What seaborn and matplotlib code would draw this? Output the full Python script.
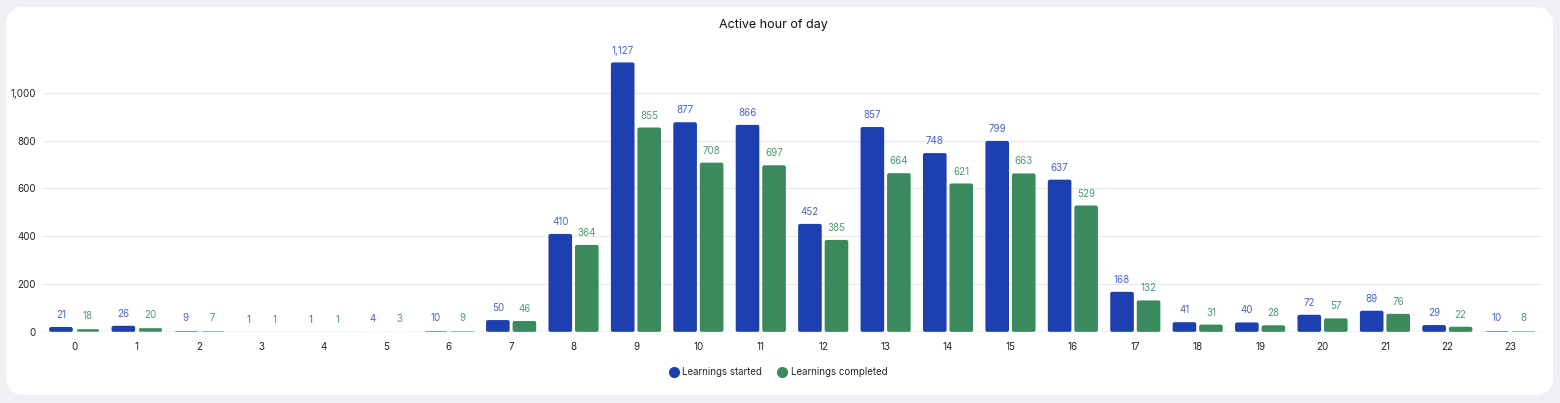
import pandas as pd
import matplotlib.pyplot as plt
import seaborn as sns
from matplotlib.patches import FancyBboxPatch
from matplotlib.lines import Line2D
from matplotlib.ticker import FuncFormatter

hours = [str(h) for h in range(24)]
started = [21, 26, 9, 1, 1, 4, 10, 50, 410, 1127, 877, 866, 452, 857, 748, 799, 637, 168, 41, 40, 72, 89, 29, 10]
completed = [18, 20, 7, 1, 1, 3, 9, 46, 364, 855, 708, 697, 385, 664, 621, 663, 529, 132, 31, 28, 57, 76, 22, 8]
series = ["Learnings started", "Learnings completed"]

blue = "#1d40b0"
green = "#3a8a5e"
label_colors = ["#4a63c8", "#4f9a6e"]

df = pd.DataFrame({
    "hour": hours * 2,
    "value": started + completed,
    "series": [series[0]] * 24 + [series[1]] * 24,
})

sns.set_theme(style="white")
plt.rcParams["font.family"] = ["Inter", "DejaVu Sans"]

W, H = 1560, 403
fig = plt.figure(figsize=(W / 100, H / 100), dpi=100, facecolor="#eef0f3")

# white card behind the chart
card = FancyBboxPatch((6 / W, 8 / H), 1547 / W, 388 / H,
                      boxstyle="round,pad=0,rounding_size=0.012",
                      transform=fig.transFigure, facecolor="white",
                      edgecolor="none", mutation_aspect=W / H, zorder=-10)
fig.patches.append(card)

ax = fig.add_axes([43 / W, (H - 332) / H, 1498 / W, 287 / H])
ax.set_facecolor("none")

sns.barplot(data=df, x="hour", y="value", hue="series", order=hours,
            palette=[blue, green], width=0.85, gap=0.11, ax=ax,
            legend=False, saturation=1)

ax.set_ylim(0, 1200)
ax.set_xlim(-0.5, 23.5)

# rounded bar tops (swap rectangles for rounded boxes)
px_x = 24 / 1498
px_y = 1200 / 287
for cont in ax.containers:
    for bar in cont:
        x, w, h = bar.get_x(), bar.get_width(), bar.get_height()
        if h / px_y < 5:
            continue
        bar.set_visible(False)
        ax.add_patch(FancyBboxPatch((x, 0), w, h,
                                    boxstyle=f"round,pad=0,rounding_size={2 * px_x}",
                                    mutation_aspect=px_y / px_x,
                                    facecolor=bar.get_facecolor(),
                                    edgecolor="none", zorder=bar.get_zorder()))

ax.set_yticks([0, 200, 400, 600, 800, 1000])
ax.yaxis.set_major_formatter(FuncFormatter(lambda v, p: f"{int(v):,}"))
ax.grid(axis="y", color="#e9e9ec", linewidth=0.8)
ax.set_axisbelow(True)
for s in ax.spines.values():
    s.set_visible(False)
ax.axhline(0, color="#c8cfe2", linewidth=1, zorder=3)
ax.tick_params(axis="both", length=0, labelsize=7, colors="#222222")
ax.tick_params(axis="x", pad=7)
ax.tick_params(axis="y", pad=5)
ax.set_xlabel("")
ax.set_ylabel("")

for cont, col in zip(ax.containers, label_colors):
    ax.bar_label(cont, labels=[f"{int(v):,}" for v in cont.datavalues],
                 padding=5, fontsize=7, color=col)

fig.text(773 / W, 1 - 25 / H, "Active hour of day", ha="center", va="center",
         fontsize=9, color="#111111")

handles = [Line2D([], [], marker="o", linestyle="", markersize=7,
                  markerfacecolor=c, markeredgecolor=c) for c in [blue, green]]
fig.legend(handles, series, loc="center", bbox_to_anchor=(778 / W, 1 - 372 / H),
           ncol=2, frameon=False, fontsize=7, handletextpad=0.4,
           columnspacing=1.5, handlelength=1)

fig.savefig("out.png", dpi=100, facecolor=fig.get_facecolor())
